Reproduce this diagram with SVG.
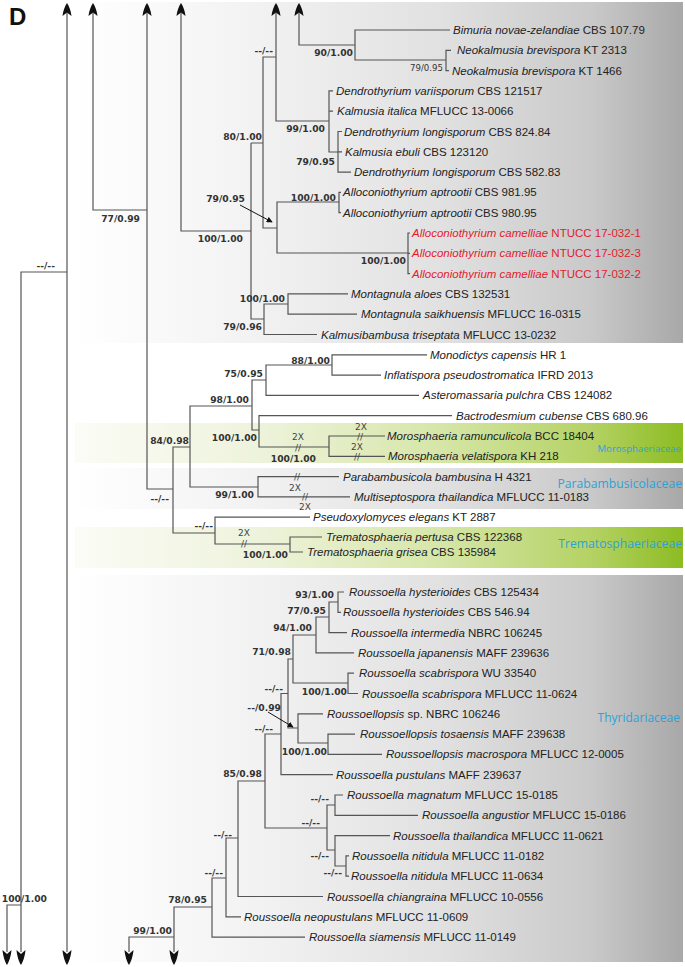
<svg xmlns="http://www.w3.org/2000/svg" width="685" height="967" viewBox="0 0 685 967">
<defs>
<linearGradient id="gGray" x1="0" y1="0" x2="1" y2="0">
<stop offset="0" stop-color="#ffffff"/>
<stop offset="0.3" stop-color="#f2f2f2"/>
<stop offset="0.6" stop-color="#e1e1e1"/>
<stop offset="0.85" stop-color="#c9c9c9"/>
<stop offset="1" stop-color="#a8a8a8"/>
</linearGradient>
<linearGradient id="gGreen" x1="0" y1="0" x2="1" y2="0">
<stop offset="0" stop-color="#fbfcf6"/>
<stop offset="0.3" stop-color="#eef3dc"/>
<stop offset="0.6" stop-color="#d6e6a8"/>
<stop offset="0.85" stop-color="#b4d264"/>
<stop offset="1" stop-color="#8cbc22"/>
</linearGradient>
<path id="aUp" d="M0,0 C2,3 4,8 4.5,13 L0,9.5 L-4.5,13 C-4,8 -2,3 0,0 Z" fill="#111"/>
<path id="aDn" d="M0,0 C2,-3 4,-9 4.5,-15 L0,-11 L-4.5,-15 C-4,-9 -2,-3 0,0 Z" fill="#111"/>
<marker id="ptr" viewBox="0 0 8 8" refX="7" refY="4" markerWidth="6" markerHeight="6" orient="auto">
<path d="M0,0 L8,4 L0,8 Z" fill="#111"/>
</marker>
<style>
.br{stroke:#555;stroke-width:1.2;fill:none}
.tx{font-family:"Liberation Sans",Arial,sans-serif;font-size:11.5px;fill:#222}
.i{font-style:italic}
.red{fill:#e3202b}
.bs{font-family:"DejaVu Sans",Verdana,sans-serif;font-weight:bold;font-size:9.2px;fill:#333;text-anchor:end}
.rs{font-family:"DejaVu Sans",Verdana,sans-serif;font-size:8.6px;fill:#333;text-anchor:end}
.x2{font-family:"DejaVu Sans",Verdana,sans-serif;font-size:9px;fill:#444;text-anchor:middle}
.fam{font-family:"Open Sans",sans-serif;fill:#2ba3da;text-anchor:end}
</style>
</defs>

<g id="backgrounds">
<rect x="75" y="2" width="608" height="341" fill="url(#gGray)"/>
<rect x="75" y="423" width="608" height="40" fill="url(#gGreen)"/>
<rect x="75" y="468" width="608" height="41" fill="url(#gGray)"/>
<rect x="75" y="527" width="608" height="41" fill="url(#gGreen)"/>
<rect x="75" y="575" width="608" height="387" fill="url(#gGray)"/>
</g>

<text x="9" y="25" font-family="Liberation Sans, Arial, sans-serif" font-weight="bold" font-size="24" fill="#111">D</text>

<g id="connectors">
<path class="br" d="M67,12V952"/>
<path class="br" d="M93,12V210H147"/>
<path class="br" d="M147,12V489H173"/>
<path class="br" d="M181,12V231H251"/>
<path class="br" d="M276,12V121H329"/>
<path class="br" d="M299,12V45H355"/>
<path class="br" d="M67,272H21V952"/>
<path class="br" d="M21,905H7V952"/>
<path class="br" d="M450,30H355V60H446"/>
<path class="br" d="M451,50.3H446V70.6H449"/>
<path class="br" d="M333,90.9H329V152H338M329,111.2H333"/>
<path class="br" d="M342,131.5H338V172.1H351M338,151.8H342"/>
<path class="br" d="M276,57H263V228H277M251,143H263"/>
<path class="br" d="M251,143V319H264"/>
<path class="br" d="M339,202H277V253H408"/>
<path class="br" d="M341,192.4H339V212.7H341"/>
<path class="br" d="M410,233H408V273.6H410M408,253.3H410"/>
<path class="br" d="M288,304H264V334.5H317"/>
<path class="br" d="M348,293.9H288V314.2H357"/>
<line x1="240" y1="205" x2="272" y2="222" stroke="#111" stroke-width="1" marker-end="url(#ptr)"/>

<path class="br" d="M190,447H173V533H215"/>
<path class="br" d="M252,406H190V487H258"/>
<path class="br" d="M266,380H252V430H259"/>
<path class="br" d="M332,365H266V395.4H419"/>
<path class="br" d="M427,354.8H332V375.1H381"/>
<path class="br" d="M452,415.7H259V447H329"/>
<path class="br" d="M385,436H329V456.3H385"/>
<path class="br" d="M339,476.6H258V496.9H350"/>
<path class="br" d="M310,517.2H215V544H290"/>
<path class="br" d="M322,537H290V552H303"/>

<path class="br" d="M344,592H338V612.3H341"/>
<path class="br" d="M338,602H329V632.6H347"/>
<path class="br" d="M329,617H316V652.9H354"/>
<path class="br" d="M316,635H293V683H348"/>
<path class="br" d="M354,673.2H348V693.5H358"/>
<path class="br" d="M293,659H288V728H298"/>
<path class="br" d="M323,713.8H298V743H328"/>
<path class="br" d="M355,734.1H328V754.4H382"/>
<path class="br" d="M288,693.5H281V774.7H333"/>
<path class="br" d="M281,734H265V828H327"/>
<path class="br" d="M335,805H327V850H335"/>
<path class="br" d="M343,795H335V815.3H418"/>
<path class="br" d="M390,835.6H335V866H346"/>
<path class="br" d="M349,855.9H346V876.2H349"/>
<path class="br" d="M265,781H238V896.5H323"/>
<path class="br" d="M238,838H226V916.8H241"/>
<path class="br" d="M226,878H212V937.1H305"/>
<path class="br" d="M212,907H174V952"/>
<path class="br" d="M174,937H129V952"/>
<line x1="268" y1="712" x2="293" y2="727" stroke="#111" stroke-width="1" marker-end="url(#ptr)"/>

<use href="#aUp" x="67" y="3"/>
<use href="#aUp" x="93" y="3"/>
<use href="#aUp" x="147" y="3"/>
<use href="#aUp" x="181" y="3"/>
<use href="#aUp" x="276" y="3"/>
<use href="#aUp" x="299" y="3"/>
<use href="#aDn" x="7" y="965"/>
<use href="#aDn" x="21" y="965"/>
<use href="#aDn" x="67" y="965"/>
<use href="#aDn" x="129" y="965"/>
<use href="#aDn" x="174" y="965"/>
</g>

<g id="breaks">
<text class="x2" x="298" y="450.5">//</text><text class="x2" x="298" y="440">2X</text>
<text class="x2" x="360" y="439.5">//</text><text class="x2" x="361" y="429.5">2X</text>
<text class="x2" x="357" y="459.8">//</text><text class="x2" x="357" y="450">2X</text>
<text class="x2" x="297" y="480">//</text><text class="x2" x="295" y="491">2X</text>
<text class="x2" x="305" y="500.4">//</text><text class="x2" x="305" y="510">2X</text>
<text class="x2" x="244" y="547">//</text><text class="x2" x="244" y="536">2X</text>
</g>

<g id="support">
<text class="bs" x="353" y="55.5">90/1.00</text>
<text class="rs" x="443" y="71">79/0.95</text>
<text class="bs" x="273" y="53.5">--/--</text>
<text class="bs" x="325" y="131.5">99/1.00</text>
<text class="bs" x="262" y="139.5">80/1.00</text>
<text class="bs" x="335" y="164.5">79/0.95</text>
<text class="bs" x="140" y="221.5">77/0.99</text>
<text class="bs" x="336" y="200.5">100/1.00</text>
<text class="bs" x="245" y="201.5">79/0.95</text>
<text class="bs" x="243" y="241.5">100/1.00</text>
<text class="bs" x="406" y="263.5">100/1.00</text>
<text class="bs" x="55" y="268.5">--/--</text>
<text class="bs" x="285" y="301.5">100/1.00</text>
<text class="bs" x="262" y="329.5">79/0.96</text>
<text class="bs" x="330" y="363.5">88/1.00</text>
<text class="bs" x="263" y="376.5">75/0.95</text>
<text class="bs" x="249" y="402.5">98/1.00</text>
<text class="bs" x="257" y="440.5">100/1.00</text>
<text class="bs" x="189" y="443.5">84/0.98</text>
<text class="bs" x="316" y="461.5">100/1.00</text>
<text class="bs" x="254" y="497.5">99/1.00</text>
<text class="bs" x="169" y="501.5">--/--</text>
<text class="bs" x="213" y="528.5">--/--</text>
<text class="bs" x="288" y="557.5">100/1.00</text>
<text class="bs" x="334" y="597.5">93/1.00</text>
<text class="bs" x="326" y="613.5">77/0.95</text>
<text class="bs" x="312" y="630.5">94/1.00</text>
<text class="bs" x="291" y="654.5">71/0.98</text>
<text class="bs" x="283" y="692">--/--</text>
<text class="bs" x="347" y="694.5">100/1.00</text>
<text class="bs" x="281" y="710.5">--/0.99</text>
<text class="bs" x="273" y="731.5">--/--</text>
<text class="bs" x="327" y="754.5">100/1.00</text>
<text class="bs" x="262" y="776.5">85/0.98</text>
<text class="bs" x="329" y="802">--/--</text>
<text class="bs" x="320" y="826">--/--</text>
<text class="bs" x="232" y="837.5">--/--</text>
<text class="bs" x="329" y="859">--/--</text>
<text class="bs" x="342" y="876">--/--</text>
<text class="bs" x="223" y="875.5">--/--</text>
<text class="bs" x="207" y="902.5">78/0.95</text>
<text class="bs" x="47" y="902">100/1.00</text>
<text class="bs" x="172" y="933.5">99/1.00</text>
</g>

<g id="families">
<text class="fam" x="681" y="452" font-size="9.6">Morosphaeriaceae</text>
<text class="fam" x="682" y="488" font-size="12.2">Parabambusicolaceae</text>
<text class="fam" x="682" y="548" font-size="12.2">Trematosphaeriaceae</text>
<text class="fam" x="680" y="722" font-size="12">Thyridariaceae</text>
</g>

<g id="taxa">
<g id="t01"><text class="tx" x="453" y="34"><tspan class="i">Bimuria novae-zelandiae</tspan> CBS 107.79</text></g>
<g id="t02"><text class="tx" x="457" y="54.3"><tspan class="i">Neokalmusia brevispora</tspan> KT 2313</text></g>
<g id="t03"><text class="tx" x="452" y="74.6"><tspan class="i">Neokalmusia brevispora</tspan> KT 1466</text></g>
<g id="t04"><text class="tx" x="336" y="94.9"><tspan class="i">Dendrothyrium variisporum</tspan> CBS 121517</text></g>
<g id="t05"><text class="tx" x="337" y="115.2"><tspan class="i">Kalmusia italica</tspan> MFLUCC 13-0066</text></g>
<g id="t06"><text class="tx" x="344" y="135.5"><tspan class="i">Dendrothyrium longisporum</tspan> CBS 824.84</text></g>
<g id="t07"><text class="tx" x="345" y="155.8"><tspan class="i">Kalmusia ebuli</tspan> CBS 123120</text></g>
<g id="t08"><text class="tx" x="354" y="176.1"><tspan class="i">Dendrothyrium longisporum</tspan> CBS 582.83</text></g>
<g id="t09"><text class="tx" x="343" y="196.4"><tspan class="i">Alloconiothyrium aptrootii</tspan> CBS 981.95</text></g>
<g id="t10"><text class="tx" x="343" y="216.7"><tspan class="i">Alloconiothyrium aptrootii</tspan> CBS 980.95</text></g>
<g id="t11"><text class="tx red" x="412" y="237"><tspan class="i">Alloconiothyrium camelliae</tspan> NTUCC 17-032-1</text></g>
<g id="t12"><text class="tx red" x="412" y="257.3"><tspan class="i">Alloconiothyrium camelliae</tspan> NTUCC 17-032-3</text></g>
<g id="t13"><text class="tx red" x="412" y="277.6"><tspan class="i">Alloconiothyrium camelliae</tspan> NTUCC 17-032-2</text></g>
<g id="t14"><text class="tx" x="351" y="297.9"><tspan class="i">Montagnula aloes</tspan> CBS 132531</text></g>
<g id="t15"><text class="tx" x="361" y="318.2"><tspan class="i">Montagnula saikhuensis</tspan> MFLUCC 16-0315</text></g>
<g id="t16"><text class="tx" x="321" y="338.5"><tspan class="i">Kalmusibambusa triseptata</tspan> MFLUCC 13-0232</text></g>
<g id="t17"><text class="tx" x="430" y="358.8"><tspan class="i">Monodictys capensis</tspan> HR 1</text></g>
<g id="t18"><text class="tx" x="384" y="379.1"><tspan class="i">Inflatispora pseudostromatica</tspan> IFRD 2013</text></g>
<g id="t19"><text class="tx" x="423" y="399.4"><tspan class="i">Asteromassaria pulchra</tspan> CBS 124082</text></g>
<g id="t20"><text class="tx" x="456" y="419.7"><tspan class="i">Bactrodesmium cubense</tspan> CBS 680.96</text></g>
<g id="t21"><text class="tx" x="387" y="440"><tspan class="i">Morosphaeria ramunculicola</tspan> BCC 18404</text></g>
<g id="t22"><text class="tx" x="388" y="460.3"><tspan class="i">Morosphaeria velatispora</tspan> KH 218</text></g>
<g id="t23"><text class="tx" x="343" y="480.6"><tspan class="i">Parabambusicola bambusina</tspan> H 4321</text></g>
<g id="t24"><text class="tx" x="354" y="500.9"><tspan class="i">Multiseptospora thailandica</tspan> MFLUCC 11-0183</text></g>
<g id="t25"><text class="tx" x="313" y="521.2"><tspan class="i">Pseudoxylomyces elegans</tspan> KT 2887</text></g>
<g id="t26"><text class="tx" x="326" y="541"><tspan class="i">Trematosphaeria pertusa</tspan> CBS 122368</text></g>
<g id="t27"><text class="tx" x="307" y="556"><tspan class="i">Trematosphaeria grisea</tspan> CBS 135984</text></g>
<g id="t28"><text class="tx" x="349" y="596"><tspan class="i">Roussoella hysterioides</tspan> CBS 125434</text></g>
<g id="t29"><text class="tx" x="343" y="616.3"><tspan class="i">Roussoella hysterioides</tspan> CBS 546.94</text></g>
<g id="t30"><text class="tx" x="351" y="636.6"><tspan class="i">Roussoella intermedia</tspan> NBRC 106245</text></g>
<g id="t31"><text class="tx" x="358" y="656.9"><tspan class="i">Roussoella japanensis</tspan> MAFF 239636</text></g>
<g id="t32"><text class="tx" x="359" y="677.2"><tspan class="i">Roussoella scabrispora</tspan> WU 33540</text></g>
<g id="t33"><text class="tx" x="362" y="697.5"><tspan class="i">Roussoella scabrispora</tspan> MFLUCC 11-0624</text></g>
<g id="t34"><text class="tx" x="327" y="717.8"><tspan class="i">Roussoellopsis</tspan> sp. NBRC 106246</text></g>
<g id="t35"><text class="tx" x="360" y="738.1"><tspan class="i">Roussoellopsis tosaensis</tspan> MAFF 239638</text></g>
<g id="t36"><text class="tx" x="386" y="758.4"><tspan class="i">Roussoellopsis macrospora</tspan> MFLUCC 12-0005</text></g>
<g id="t37"><text class="tx" x="336" y="778.7"><tspan class="i">Roussoella pustulans</tspan> MAFF 239637</text></g>
<g id="t38"><text class="tx" x="347" y="799"><tspan class="i">Roussoella magnatum</tspan> MFLUCC 15-0185</text></g>
<g id="t39"><text class="tx" x="422" y="819.3"><tspan class="i">Roussoella angustior</tspan> MFLUCC 15-0186</text></g>
<g id="t40"><text class="tx" x="393" y="839.6"><tspan class="i">Roussoella thailandica</tspan> MFLUCC 11-0621</text></g>
<g id="t41"><text class="tx" x="352" y="859.9"><tspan class="i">Roussoella nitidula</tspan> MFLUCC 11-0182</text></g>
<g id="t42"><text class="tx" x="351" y="880.2"><tspan class="i">Roussoella nitidula</tspan> MFLUCC 11-0634</text></g>
<g id="t43"><text class="tx" x="327" y="900.5"><tspan class="i">Roussoella chiangraina</tspan> MFLUCC 10-0556</text></g>
<g id="t44"><text class="tx" x="244" y="920.8"><tspan class="i">Roussoella neopustulans</tspan> MFLUCC 11-0609</text></g>
<g id="t45"><text class="tx" x="309" y="941.1"><tspan class="i">Roussoella siamensis</tspan> MFLUCC 11-0149</text></g>
</g>
</svg>
